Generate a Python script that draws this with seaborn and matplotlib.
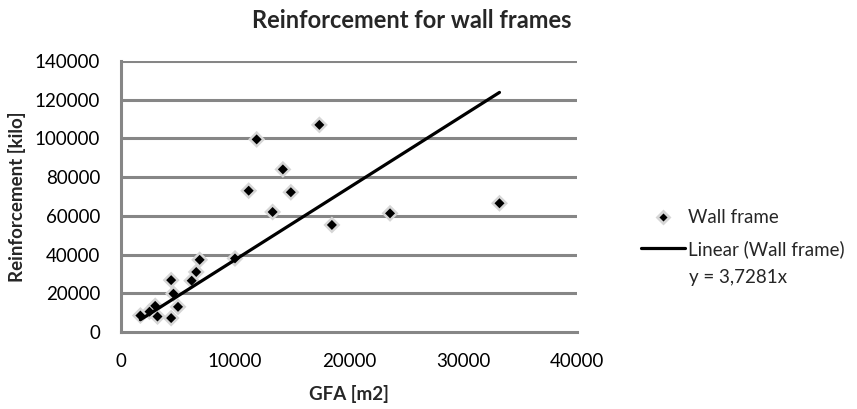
import matplotlib
matplotlib.use("Agg")
import matplotlib.pyplot as plt
from matplotlib.lines import Line2D
import numpy as np
import pandas as pd
import seaborn as sns

# Gross floor area [m2] and wall-frame reinforcement [kilo] per project
gfa = [1700, 2500, 3000, 3200, 4400, 5000, 4600, 4400, 6200, 6600, 6900,
       10000, 11200, 11900, 13300, 14200, 14900, 17400, 18500, 23600, 33200]
reinforcement = [8500, 10500, 13500, 8000, 7200, 13000, 19800, 26800, 26500,
                 31000, 37300, 38000, 73000, 99500, 62000, 84000, 72200,
                 107000, 55300, 61300, 66500]

# Linear trendline through the origin
slope = 3.7281
equation = "y = 3,7281x"

x_ticks = [0, 10000, 20000, 30000, 40000]
y_ticks = [0, 20000, 40000, 60000, 80000, 100000, 120000, 140000]

df = pd.DataFrame({"GFA": gfa, "Reinforcement": reinforcement})
trend_x = [min(gfa), max(gfa)]
trend = pd.DataFrame({"GFA": trend_x, "Reinforcement": [slope * v for v in trend_x]})

sns.set_theme(style="white")
plt.rcParams["font.family"] = ["Lato", "DejaVu Sans"]

fs = 13.5
fig = plt.figure(figsize=(8.57, 4.09), dpi=100)
ax = fig.add_axes([121 / 857, 1 - 332 / 409, (577 - 121) / 857, (332 - 61) / 409])

grid_color = "#868686"
for yv in y_ticks[1:]:
    ax.axhline(yv, color=grid_color, lw=2.2, zorder=0)

# soft halo behind the markers, then the black diamonds
sns.scatterplot(data=df, x="GFA", y="Reinforcement", marker="D", s=75,
                color="#d6d6d6", edgecolor="none", ax=ax, zorder=2, legend=False)
sns.scatterplot(data=df, x="GFA", y="Reinforcement", marker="D", s=26,
                color="black", edgecolor="none", ax=ax, zorder=3, legend=False)
sns.lineplot(data=trend, x="GFA", y="Reinforcement", color="black", lw=2.3,
             ax=ax, zorder=4)

ax.set_xlim(0, 40000)
ax.set_ylim(0, 140000)
ax.set_xticks(x_ticks)
ax.set_yticks(y_ticks)
ax.set_xticklabels([str(v) for v in x_ticks], fontsize=fs)
ax.set_yticklabels([str(v) for v in y_ticks], fontsize=fs)
ax.tick_params(axis="x", length=0, pad=15, colors="black")
ax.tick_params(axis="y", length=0, pad=15, colors="black")

for side in ["top", "right"]:
    ax.spines[side].set_visible(False)
for side in ["left", "bottom"]:
    ax.spines[side].set_color(grid_color)
    ax.spines[side].set_linewidth(2.2)

ax.set_xlabel("GFA [m2]", fontsize=fs, fontweight="bold", labelpad=11)
ax.set_ylabel("Reinforcement [kilo]", fontsize=fs, fontweight="bold", labelpad=6)

fig.text(412 / 857, 1 - 20 / 409, "Reinforcement for wall frames",
         ha="center", va="center", fontsize=17, fontweight="bold")

handles = [
    Line2D([], [], marker="D", ls="none", color="black", markersize=6,
           markeredgecolor="#d6d6d6", markeredgewidth=2),
    Line2D([], [], color="black", lw=2.3),
]
leg = fig.legend(handles, ["Wall frame", "Linear (Wall frame)"],
                 loc="upper left", bbox_to_anchor=(633 / 857, 1 - 202 / 409),
                 frameon=False, fontsize=fs, handlelength=2.35,
                 handletextpad=0.2, labelspacing=0.72, borderaxespad=0)
fig.text(738 / 857, 1 - 277 / 409, equation, ha="center", va="center",
         fontsize=fs)

fig.savefig("out.png", dpi=100)
